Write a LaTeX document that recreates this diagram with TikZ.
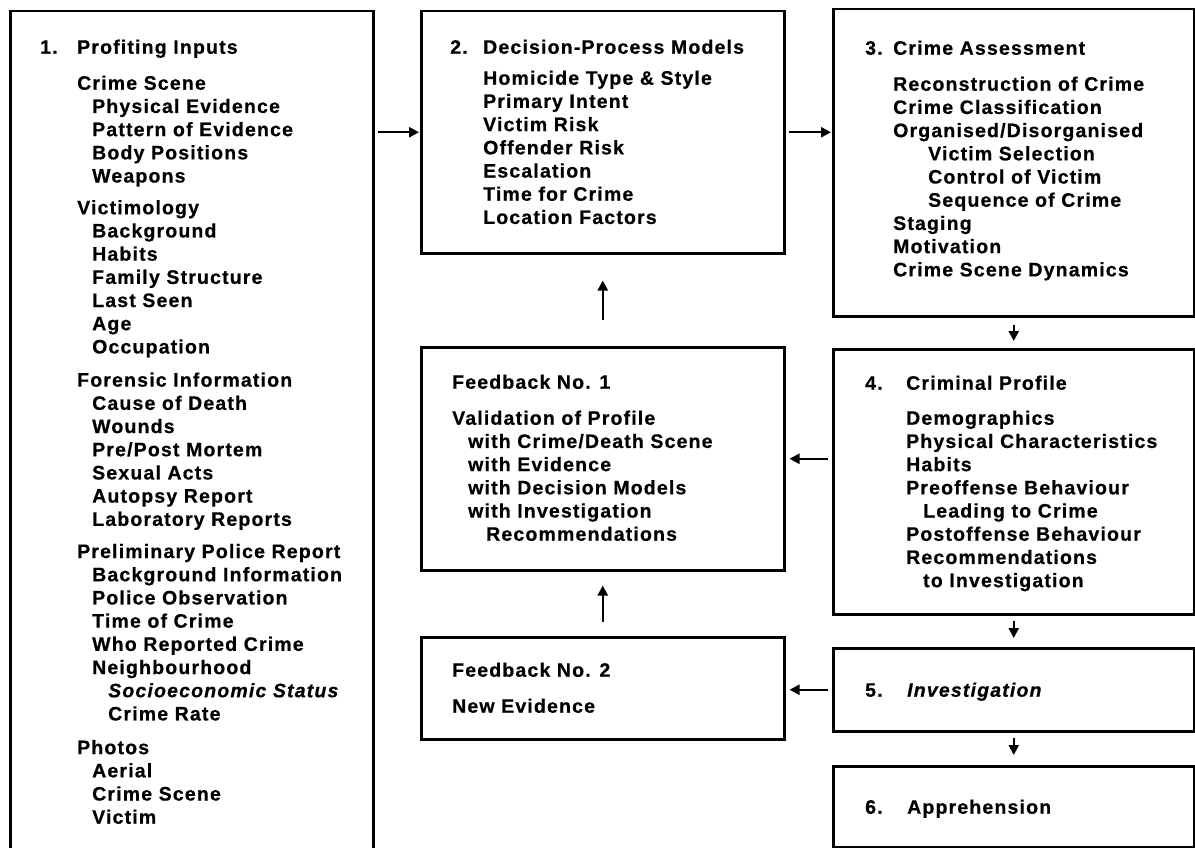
\documentclass[tikz,border=0pt]{standalone}
\usepackage{fontspec}
\usetikzlibrary{arrows.meta}
\newfontfamily\diagfont{Liberation Sans}[LetterSpace=6, BoldFeatures={FakeBold=0.6}, BoldItalicFeatures={FakeBold=0.6}]
\newcommand\myind[1]{\hspace*{#1pt}}
\newcommand\mynum[2]{\llap{\makebox[#1pt][l]{#2}}}
\begin{document}
\begin{tikzpicture}[x=1pt,y=-1pt,
  box/.style={draw, line width=2.5pt, inner sep=0pt, anchor=north west},
  txt/.style={anchor=north west, inner sep=0pt, align=left,
    font=\diagfont\bfseries\fontsize{19.5}{23.2}\selectfont},
  arr/.style={line width=2.4pt, -{Triangle[length=10pt,width=10pt]}}]
\useasboundingbox (0,0) rectangle (1195,848);
\fill[white] (0,0) rectangle (1195,848);
% boxes
\node[box, minimum width=363pt, minimum height=860pt] (box1) at (9,10) {};
\node[box, minimum width=363pt, minimum height=242pt] (box2) at (420,10) {};
\node[box, minimum width=361pt, minimum height=307pt] (box3) at (832,8) {};
\node[box, minimum width=363pt, minimum height=223pt] (fb1) at (420,346) {};
\node[box, minimum width=361pt, minimum height=265pt] (box4) at (832,348) {};
\node[box, minimum width=363pt, minimum height=102pt] (fb2) at (420,636) {};
\node[box, minimum width=361pt, minimum height=83pt] (box5) at (832,647) {};
\node[box, minimum width=361pt, minimum height=81pt] (box6) at (832,765) {};
% texts
\node[txt] (t1) at (77,37.3) {\mynum{37}{1.}Profiting Inputs\strut\\[12.8pt]
Crime Scene\\
\myind{15}Physical Evidence\\
\myind{15}Pattern of Evidence\\
\myind{15}Body Positions\\
\myind{15}Weapons\\[8.5pt]
Victimology\\
\myind{15}Background\\
\myind{15}Habits\\
\myind{15}Family Structure\\
\myind{15}Last Seen\\
\myind{15}Age\\
\myind{15}Occupation\\[10pt]
Forensic Information\\
\myind{15}Cause of Death\\
\myind{15}Wounds\\
\myind{15}Pre/Post Mortem\\
\myind{15}Sexual Acts\\
\myind{15}Autopsy Report\\
\myind{15}Laboratory Reports\\[9pt]
Preliminary Police Report\\
\myind{15}Background Information\\
\myind{15}Police Observation\\
\myind{15}Time of Crime\\
\myind{15}Who Reported Crime\\
\myind{15}Neighbourhood\\
\myind{31}\textit{Socioeconomic Status}\\
\myind{31}Crime Rate\\[10.5pt]
Photos\\
\myind{15}Aerial\\
\myind{15}Crime Scene\\
\myind{15}Victim};
\node[txt] (t2) at (483,37.3) {\mynum{33}{2.}Decision-Process Models\strut\\[7.8pt]
Homicide Type \& Style\\
Primary Intent\\
Victim Risk\\
Offender Risk\\
Escalation\\
Time for Crime\\
Location Factors};
\node[txt] (t3) at (893,38.3) {\mynum{28}{3.}Crime Assessment\strut\\[12.8pt]
Reconstruction of Crime\\
Crime Classification\\
Organised/Disorganised\\
\myind{35}Victim Selection\\
\myind{35}Control of Victim\\
\myind{35}Sequence of Crime\\
Staging\\
Motivation\\
Crime Scene Dynamics};
\node[txt] (tf1) at (452,372.3) {Feedback No. 1\strut\\[12.8pt]
Validation of Profile\\
\myind{16}with Crime/Death Scene\\
\myind{16}with Evidence\\
\myind{16}with Decision Models\\
\myind{16}with Investigation\\
\myind{34}Recommendations};
\node[txt] (t4) at (906,373.3) {\mynum{41}{4.}Criminal Profile\strut\\[11.8pt]
Demographics\\
Physical Characteristics\\
Habits\\
Preoffense Behaviour\\
\myind{17}Leading to Crime\\
Postoffense Behaviour\\
Recommendations\\
\myind{17}to Investigation};
\node[txt] (tf2) at (452,660.3) {Feedback No. 2\strut\\[12.8pt]
New Evidence};
\node[txt] (t5) at (907,680.3) {\mynum{42}{5.}\textit{Investigation}\strut};
\node[txt] (t6) at (907,797.3) {\mynum{42}{6.}Apprehension\strut};
% arrows
\draw[arr, shorten <=3pt, shorten >=1pt] (box1.east |- box2.west) -- (box2.west);
\draw[arr, shorten <=3pt, shorten >=1pt] (box2.east) -- (box2.east -| box3.west);
\draw[arr, shorten <=7pt, shorten >=7pt] (box3.south) -- (box4.north);
\draw[arr, shorten <=4pt, shorten >=4pt] (box4.west |- fb1.east) -- (fb1.east);
\draw[arr, shorten <=5pt, shorten >=9pt] (box4.south) -- (box5.north);
\draw[arr, shorten <=4pt, shorten >=4pt] (box5.west) -- (box5.west -| fb2.east);
\draw[arr, shorten <=5pt, shorten >=10pt] (box5.south) -- (box6.north);
\draw[arr, shorten <=26pt, shorten >=26pt] (fb1.north) -- (box2.south);
\draw[arr, shorten <=14pt, shorten >=14pt] (fb2.north) -- (fb1.south);
\end{tikzpicture}
\end{document}
